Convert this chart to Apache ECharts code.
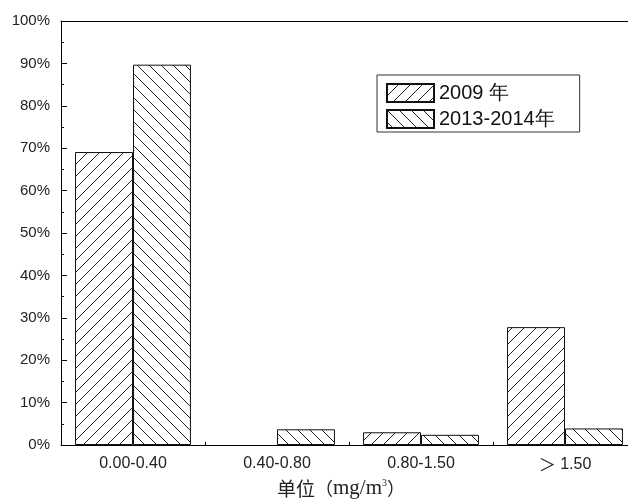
<!DOCTYPE html>
<html>
<head>
<meta charset="utf-8">
<script src="https://cdn.jsdelivr.net/npm/echarts@6/dist/echarts.min.js"></script>
<style>
html,body{margin:0;padding:0;background:#fff;overflow:hidden;width:628px;height:504px;}
#chart{width:637px;height:504px;}
</style>
</head>
<body>
<div id="chart"></div>
<script>
const categories = ['0.00-0.40', '0.40-0.80', '0.80-1.50', '＞ 1.50'];
const series2009 = [69.1, 0, 3.0, 27.8];
const series2013 = [89.7, 3.7, 2.4, 3.9];
const seriesNames = ['2009 年', '2013-2014年'];
const yTicks = [0, 10, 20, 30, 40, 50, 60, 70, 80, 90, 100];

function hatch(dir) {
  const s = 12;
  const c = document.createElement('canvas');
  c.width = s; c.height = s;
  const ctx = c.getContext('2d');
  ctx.fillStyle = '#fff';
  ctx.fillRect(0, 0, s, s);
  ctx.strokeStyle = '#222';
  ctx.lineWidth = 1;
  ctx.beginPath();
  if (dir === '/') {
    ctx.moveTo(-2, s + 2); ctx.lineTo(s + 2, -2);
    ctx.moveTo(-2, 2); ctx.lineTo(2, -2);
    ctx.moveTo(s - 2, s + 2); ctx.lineTo(s + 2, s - 2);
  } else {
    ctx.moveTo(-2, -2); ctx.lineTo(s + 2, s + 2);
    ctx.moveTo(-2, s - 2); ctx.lineTo(2, s + 2);
    ctx.moveTo(s - 2, -2); ctx.lineTo(s + 2, 2);
  }
  ctx.stroke();
  return c;
}

function toItems(arr) {
  return arr.map(v => v === 0 ? {value: v, itemStyle: {borderWidth: 0}} : v);
}

const chart = echarts.init(document.getElementById('chart'), null, {renderer: 'canvas'});
const font = 'Liberation Sans, Arial, sans-serif';
chart.setOption({
  animation: false,
  backgroundColor: '#fff',
  grid: {left: 61, top: 21, right: 0, bottom: 54, containLabel: false},
  legend: {
    orient: 'vertical',
    left: 377, top: 75,
    padding: [8, 25, 3, 9],
    itemGap: 6,
    itemWidth: 47, itemHeight: 18,
    icon: 'rect',
    borderColor: '#333', borderWidth: 1,
    textStyle: {fontFamily: font, fontSize: 20, color: '#111'},
    data: seriesNames
  },
  xAxis: [{
    type: 'category',
    data: categories,
    axisLine: {lineStyle: {color: '#000', width: 1}},
    axisTick: {show: true, inside: true, length: 3, lineStyle: {color: '#000'}},
    axisLabel: {
      fontFamily: font, fontSize: 16, color: '#222', margin: 11,
      formatter: v => v.replace('＞', '{g|＞}'),
      rich: {g: {fontFamily: 'Noto Sans CJK SC', fontSize: 17, color: '#222'}}
    },
    name: '{a|单位}{b|（}{c|mg/m}{d|3}{b|）}',
    nameLocation: 'middle',
    nameGap: 33,
    nameTextStyle: {
      padding: [0, 16, 0, 0],
      rich: {
        a: {fontFamily: 'Noto Sans CJK SC', fontSize: 19, color: '#222'},
        b: {fontFamily: 'Noto Sans CJK SC', fontSize: 18, color: '#222'},
        c: {fontFamily: 'Liberation Serif, DejaVu Serif, serif', fontSize: 21, color: '#222'},
        d: {fontFamily: 'Liberation Serif, serif', fontSize: 10, color: '#222', verticalAlign: 'top', padding: [0, 0, 9, 0]}
      }
    }
  }, {
    type: 'category',
    position: 'top',
    data: categories,
    axisLine: {show: true, lineStyle: {color: '#000', width: 1}},
    axisTick: {show: false},
    axisLabel: {show: false}
  }],
  yAxis: [{
    type: 'value',
    min: yTicks[0], max: yTicks[yTicks.length - 1], interval: 10,
    axisLine: {show: true, lineStyle: {color: '#000', width: 1}},
    axisTick: {show: true, inside: true, length: 6, lineStyle: {color: '#000'}},
    minorTick: {show: true, splitNumber: 2, length: 3, lineStyle: {color: '#000'}},
    splitLine: {show: false},
    axisLabel: {fontFamily: font, fontSize: 15, color: '#222', margin: 11, formatter: '{value}%'}
  }],
  series: [{
    name: seriesNames[0],
    type: 'bar',
    data: toItems(series2009),
    barGap: '0%',
    barCategoryGap: '19.5%',
    itemStyle: {color: {image: hatch('/'), repeat: 'repeat'}, borderColor: '#111', borderWidth: 1}
  }, {
    name: seriesNames[1],
    type: 'bar',
    data: toItems(series2013),
    barGap: '0%',
    barCategoryGap: '19.5%',
    itemStyle: {color: {image: hatch('\\'), repeat: 'repeat'}, borderColor: '#111', borderWidth: 1}
  }]
});
</script>
</body>
</html>
